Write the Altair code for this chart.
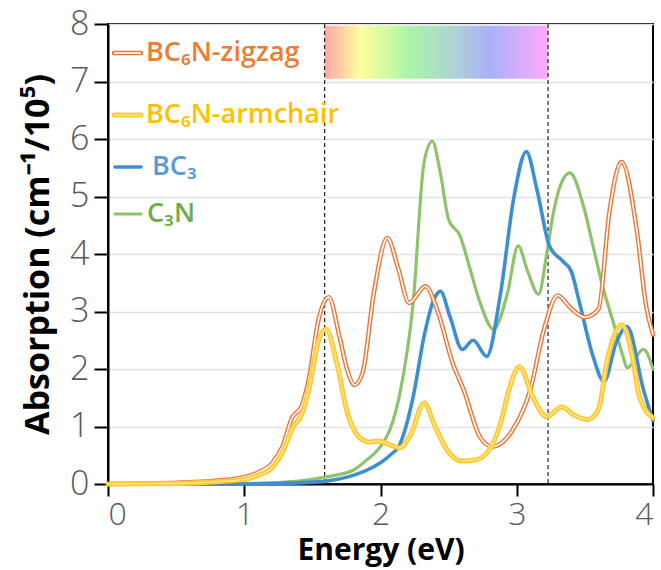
import altair as alt
import pandas as pd

# ---------------- data ----------------
series_names = ["BC₆N-zigzag", "BC₆N-armchair", "BC₃", "C₃N"]

zig_x = [0, 0.5, 0.8, 1.0, 1.1, 1.2, 1.28, 1.35, 1.42, 1.48, 1.54, 1.62, 1.7, 1.76, 1.81, 1.87,
         1.95, 2.05, 2.13, 2.21, 2.33, 2.42, 2.53, 2.61, 2.73, 2.82, 2.97, 3.1, 3.2, 3.3, 3.4,
         3.5, 3.6, 3.68, 3.77, 3.88, 3.95, 4.0]
zig_y = [0, 0.02, 0.06, 0.12, 0.2, 0.35, 0.65, 1.15, 1.35, 1.9, 2.8, 3.25, 2.55, 1.95, 1.72, 1.95,
         3.3, 4.28, 3.75, 3.15, 3.44, 3.0, 2.1, 1.64, 0.82, 0.65, 0.94, 1.64, 2.69, 3.28, 3.05,
         2.9, 3.04, 4.73, 5.6, 4.43, 3.09, 2.6]

arm_x = [0, 0.5, 0.8, 1.0, 1.1, 1.2, 1.28, 1.36, 1.42, 1.48, 1.54, 1.6, 1.68, 1.75, 1.85, 1.92,
         1.98, 2.05, 2.14, 2.22, 2.32, 2.4, 2.5, 2.6, 2.7, 2.8, 2.88, 2.95, 3.02, 3.12, 3.22,
         3.33, 3.42, 3.52, 3.6, 3.66, 3.77, 3.85, 3.9, 4.0]
arm_y = [0, 0.01, 0.04, 0.08, 0.15, 0.27, 0.55, 1.0, 1.2, 1.7, 2.45, 2.69, 2.1, 1.3, 0.8, 0.73,
         0.75, 0.7, 0.63, 0.85, 1.41, 1.0, 0.55, 0.4, 0.42, 0.6, 1.05, 1.7, 2.04, 1.5, 1.17,
         1.34, 1.2, 1.12, 1.3, 2.1, 2.77, 2.2, 1.52, 1.15]

bc3_x = [0, 1.0, 1.4, 1.6, 1.8, 1.9, 2.0, 2.07, 2.14, 2.24, 2.32, 2.39, 2.44, 2.51, 2.6, 2.68,
         2.78, 2.88, 2.98, 3.07, 3.15, 3.24, 3.34, 3.4, 3.46, 3.56, 3.64, 3.73, 3.81, 3.93, 4.0]
bc3_y = [0, 0.0, 0.02, 0.05, 0.15, 0.24, 0.37, 0.5, 0.68, 1.52, 2.57, 3.2, 3.35, 2.91, 2.34, 2.5,
         2.22, 3.3, 5.0, 5.78, 5.1, 4.14, 3.87, 3.7, 3.16, 2.22, 1.78, 2.46, 2.74, 1.64, 1.1]

c3n_x = [0, 1.0, 1.4, 1.59, 1.8, 1.9, 2.0, 2.07, 2.14, 2.24, 2.32, 2.38, 2.44, 2.5, 2.585, 2.65,
         2.73, 2.83, 2.93, 3.01, 3.08, 3.16, 3.22, 3.27, 3.33, 3.39, 3.49, 3.56, 3.63, 3.71,
         3.78, 3.81, 3.93, 4.0]
c3n_y = [0, 0.01, 0.05, 0.12, 0.24, 0.42, 0.65, 0.95, 1.55, 3.16, 5.6, 5.96, 5.4, 4.6, 4.31, 3.8,
         3.16, 2.69, 3.3, 4.14, 3.7, 3.3, 4.0, 4.73, 5.25, 5.41, 4.83, 4.14, 3.44, 2.8,
         2.22, 2.02, 2.34, 2.0]

visible_range = [1.59, 3.23]      # eV, dashed lines / spectrum band
band_y = [7.05, 7.97]

x_ticks = [0, 1, 2, 3, 4]
y_ticks = [0, 1, 2, 3, 4, 5, 6, 7, 8]

# ---------------- build ----------------
FONT = "Open Sans"

df = pd.concat([
    pd.DataFrame({"E": zig_x, "A": zig_y, "series": series_names[0]}),
    pd.DataFrame({"E": arm_x, "A": arm_y, "series": series_names[1]}),
    pd.DataFrame({"E": bc3_x, "A": bc3_y, "series": series_names[2]}),
    pd.DataFrame({"E": c3n_x, "A": c3n_y, "series": series_names[3]}),
], ignore_index=True)

xscale = alt.Scale(domain=[0, 4], nice=False, zero=False)
yscale = alt.Scale(domain=[0, 8], nice=False, zero=False)

xaxis = alt.Axis(values=x_ticks, format="d", title="Energy (eV)", grid=False,
                 labelFont=FONT, labelFontSize=32, labelFontWeight=300, labelColor="#5a5a5a",
                 labelPadding=3, labelBaseline="top",
                 titleFont=FONT, titleFontSize=30, titleFontWeight="bold", titleColor="black",
                 titlePadding=5, tickColor="black", tickSize=12, tickWidth=2,
                 domainColor="black", domainWidth=2)
yaxis = alt.Axis(values=y_ticks, format="d", title="Absorption (cm⁻¹/10⁵)", grid=True,
                 gridColor="#e4e4e4", gridWidth=1.5,
                 labelFont=FONT, labelFontSize=34, labelFontWeight=300, labelColor="#5a5a5a",
                 labelPadding=5,
                 titleFont=FONT, titleFontSize=34, titleFontWeight="bold", titleColor="black",
                 titlePadding=14, tickColor="black", tickSize=14, tickWidth=2,
                 domainColor="black", domainWidth=2)

X = alt.X("E:Q", scale=xscale, axis=xaxis)
Y = alt.Y("A:Q", scale=yscale, axis=yaxis)

base = alt.Chart(df)


def line(name, color, width):
    return base.transform_filter(alt.datum.series == name).mark_line(
        color=color, strokeWidth=width, interpolate="monotone", strokeCap="round",
        strokeJoin="round").encode(x=X, y=Y)


band = alt.Chart(pd.DataFrame({"x": [visible_range[0]], "x2": [visible_range[1]],
                               "y": [band_y[0]], "y2": [band_y[1]]})).mark_rect(
    color={"gradient": "linear", "x1": 0, "x2": 1, "y1": 0, "y2": 0,
           "stops": [{"offset": 0.0, "color": "#ffa8a8"},
                     {"offset": 0.16, "color": "#ffff9c"},
                     {"offset": 0.38, "color": "#a8f5a8"},
                     {"offset": 0.56, "color": "#b0d6d0"},
                     {"offset": 0.74, "color": "#aab0f8"},
                     {"offset": 1.0, "color": "#ffaaff"}]}
).encode(x=alt.X("x:Q", scale=xscale, axis=xaxis), x2="x2:Q",
         y=alt.Y("y:Q", scale=yscale, axis=yaxis), y2="y2:Q")

dashes = alt.Chart(pd.DataFrame({"v": visible_range})).mark_rule(
    color="#222222", strokeDash=[4, 3], strokeWidth=1.2
).encode(x=alt.X("v:Q", scale=xscale, axis=xaxis))

c3n = line(series_names[3], "#8cc36b", 3.2)
bc3 = line(series_names[2], "#3d8fd1", 3.6)
zig_o = line(series_names[0], "#e8793a", 4.5)
zig_i = line(series_names[0], "white", 1.6)
arm_o = line(series_names[1], "#ffc92e", 5)
arm_i = line(series_names[1], "#ffe58c", 1.5)

# ---------------- legend (drawn as annotations) ----------------
leg_rows = [
    (series_names[0], "#ed7d31", 29, 38),
    (series_names[1], "#ffc000", 91, 38),
    (series_names[2], "#5b9bd5", 143, 44),
    (series_names[3], "#70ad47", 190, 39),
]
legend_layers = []
for i, (name, col, yy, tx) in enumerate(leg_rows):
    ldf = pd.DataFrame({"label": [name]})
    if i == 0:
        legend_layers.append(alt.Chart(ldf).mark_rule(color="#e8793a", strokeWidth=4.5, strokeCap="round").encode(
            x=alt.value(6), x2=alt.value(33), y=alt.value(yy)))
        legend_layers.append(alt.Chart(ldf).mark_rule(color="white", strokeWidth=1.6).encode(
            x=alt.value(6), x2=alt.value(33), y=alt.value(yy)))
    elif i == 1:
        legend_layers.append(alt.Chart(ldf).mark_rule(color="#ffc92e", strokeWidth=5, strokeCap="round").encode(
            x=alt.value(6), x2=alt.value(33), y=alt.value(yy)))
        legend_layers.append(alt.Chart(ldf).mark_rule(color="#ffe58c", strokeWidth=1.5).encode(
            x=alt.value(6), x2=alt.value(33), y=alt.value(yy)))
    elif i == 2:
        legend_layers.append(alt.Chart(ldf).mark_rule(color="#3d8fd1", strokeWidth=3.6, strokeCap="round").encode(
            x=alt.value(7), x2=alt.value(33), y=alt.value(yy)))
    else:
        legend_layers.append(alt.Chart(ldf).mark_rule(color="#8cc36b", strokeWidth=3.2, strokeCap="round").encode(
            x=alt.value(7), x2=alt.value(33), y=alt.value(yy)))
    legend_layers.append(alt.Chart(ldf).mark_text(
        align="left", baseline="middle", font=FONT, fontSize=27, fontWeight=600, color=col
    ).encode(x=alt.value(tx), y=alt.value(yy), text="label:N"))

chart = alt.layer(band, dashes, c3n, bc3, zig_o, zig_i, arm_o, arm_i, *legend_layers).properties(
    width=545, height=460,
    autosize=alt.AutoSizeParams(type="none"),
    padding={"left": 108, "top": 24, "right": 8, "bottom": 86},
    background="white",
).configure_view(stroke="black", strokeWidth=2)

chart.save("out.html", embed_options={"renderer": "svg", "actions": False})
